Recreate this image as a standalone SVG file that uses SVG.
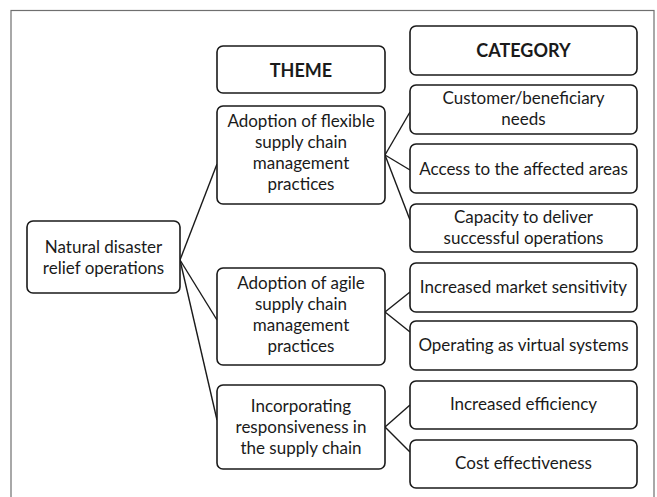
<svg xmlns="http://www.w3.org/2000/svg" width="657" height="497" viewBox="0 0 657 497">
<style>
.frame{fill:none;stroke:#6f6f6f;stroke-width:1.2}
.box{fill:#fff;stroke:#1a1a1a;stroke-width:1.6}
.t{font-family:Lato,"Open Sans","Liberation Sans",sans-serif;font-size:17px;fill:#1a1a1a;text-anchor:middle}
.h{font-family:Lato,"Open Sans","Liberation Sans",sans-serif;font-size:18px;font-weight:bold;fill:#1a1a1a;text-anchor:middle}
.c{fill:none;stroke:#1a1a1a;stroke-width:1.4}
</style>
<rect width="657" height="497" fill="#fff"/>
<rect class="frame" x="11" y="10.5" width="643" height="500"/>
<g id="connectors">
<line class="c" x1="180" y1="260" x2="217" y2="164"/>
<line class="c" x1="180" y1="260" x2="217" y2="320"/>
<line class="c" x1="180" y1="260" x2="217" y2="420"/>
<line class="c" x1="385" y1="155" x2="410" y2="112"/>
<line class="c" x1="385" y1="155" x2="410" y2="170"/>
<line class="c" x1="385" y1="155" x2="410" y2="220"/>
<line class="c" x1="385" y1="312" x2="410" y2="292"/>
<line class="c" x1="385" y1="312" x2="410" y2="332"/>
<line class="c" x1="385" y1="427" x2="410" y2="405"/>
<line class="c" x1="385" y1="427" x2="410" y2="452"/>
</g>
<g id="header-theme">
<rect class="box" x="217" y="46" width="168" height="47" rx="6"/>
<text class="h" x="301" y="77">THEME</text>
</g>
<g id="header-category">
<rect class="box" x="410" y="26" width="227" height="49" rx="6"/>
<text class="h" x="523.5" y="57">CATEGORY</text>
</g>
<g id="root">
<rect class="box" x="27" y="221" width="153" height="72" rx="6"/>
<text class="t" x="103.5" y="253">Natural disaster</text>
<text class="t" x="103.5" y="274">relief operations</text>
</g>
<g id="theme1">
<rect class="box" x="217" y="106" width="168" height="98" rx="6"/>
<text class="t" x="301" y="127">Adoption of flexible</text>
<text class="t" x="301" y="148">supply chain</text>
<text class="t" x="301" y="169">management</text>
<text class="t" x="301" y="190">practices</text>
</g>
<g id="theme2">
<rect class="box" x="217" y="268" width="168" height="97" rx="6"/>
<text class="t" x="301" y="289">Adoption of agile</text>
<text class="t" x="301" y="310">supply chain</text>
<text class="t" x="301" y="331">management</text>
<text class="t" x="301" y="352">practices</text>
</g>
<g id="theme3">
<rect class="box" x="217" y="385" width="168" height="84" rx="6"/>
<text class="t" x="301" y="412">Incorporating</text>
<text class="t" x="301" y="433">responsiveness in</text>
<text class="t" x="301" y="454">the supply chain</text>
</g>
<g id="cat1">
<rect class="box" x="410" y="85" width="227" height="49" rx="6"/>
<text class="t" x="523.5" y="104">Customer/beneficiary</text>
<text class="t" x="523.5" y="125">needs</text>
</g>
<g id="cat2">
<rect class="box" x="410" y="144" width="227" height="49" rx="6"/>
<text class="t" x="523.5" y="175">Access to the affected areas</text>
</g>
<g id="cat3">
<rect class="box" x="410" y="204" width="227" height="48" rx="6"/>
<text class="t" x="523.5" y="223">Capacity to deliver</text>
<text class="t" x="523.5" y="244">successful operations</text>
</g>
<g id="cat4">
<rect class="box" x="410" y="263" width="227" height="49" rx="6"/>
<text class="t" x="523.5" y="293">Increased market sensitivity</text>
</g>
<g id="cat5">
<rect class="box" x="410" y="321" width="227" height="49" rx="6"/>
<text class="t" x="523.5" y="351">Operating as virtual systems</text>
</g>
<g id="cat6">
<rect class="box" x="410" y="381" width="227" height="48" rx="6"/>
<text class="t" x="523.5" y="410">Increased efficiency</text>
</g>
<g id="cat7">
<rect class="box" x="410" y="440" width="227" height="48" rx="6"/>
<text class="t" x="523.5" y="469">Cost effectiveness</text>
</g>
</svg>
